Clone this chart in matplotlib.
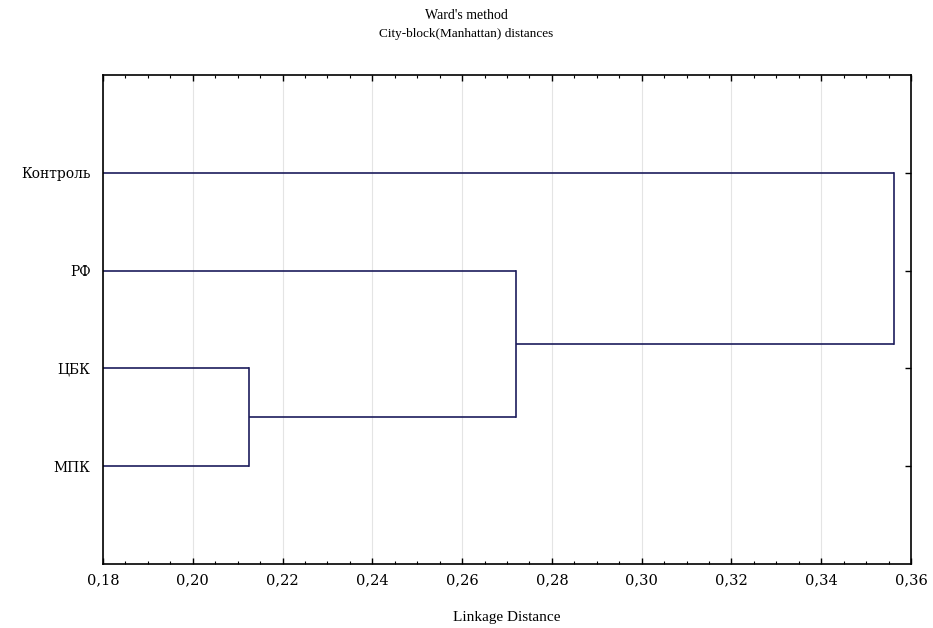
import matplotlib
matplotlib.use("Agg")
import matplotlib.pyplot as plt
from matplotlib.ticker import MultipleLocator, FuncFormatter

# Data
leaf_labels = ["Контроль", "РФ", "ЦБК", "МПК"]
# merges: (cluster a, cluster b, linkage distance); leaves are 0..3, new clusters 4..
merge_a = [2, 1, 0]
merge_b = [3, 4, 5]
merge_dist = [0.2125, 0.2721, 0.3562]
x_ticks = [0.18, 0.20, 0.22, 0.24, 0.26, 0.28, 0.30, 0.32, 0.34, 0.36]

plt.rcParams['font.family'] = ['Liberation Serif', 'DejaVu Serif']

fig = plt.figure(figsize=(9.33, 6.28), dpi=100)
ax = fig.add_axes([0.1104, 0.1019, 0.8660, 0.7787])

line_color = "#1c1c5c"
ypos = {i: i + 1 for i in range(len(leaf_labels))}
xpos = {i: 0.0 for i in range(len(leaf_labels))}
for k, (a, b, d) in enumerate(zip(merge_a, merge_b, merge_dist)):
    new = len(leaf_labels) + k
    for c in (a, b):
        ax.plot([xpos[c], d], [ypos[c], ypos[c]], color=line_color, lw=1.2, solid_capstyle='butt')
    ax.plot([d, d], [ypos[a], ypos[b]], color=line_color, lw=1.2)
    ypos[new] = (ypos[a] + ypos[b]) / 2
    xpos[new] = d

ax.set_xlim(x_ticks[0], x_ticks[-1])
ax.set_ylim(len(leaf_labels) + 1, 0)
ax.set_xticks(x_ticks)
ax.xaxis.set_minor_locator(MultipleLocator(0.005))
ax.xaxis.set_major_formatter(FuncFormatter(lambda v, p: f"{v:.2f}".replace('.', ',')))
ax.set_yticks([ypos[i] for i in range(len(leaf_labels))])
ax.set_yticklabels(leaf_labels)

ax.tick_params(axis='x', which='major', direction='in', length=4, width=1, top=True, bottom=True,
               labelsize=10.5, pad=7)
ax.tick_params(axis='x', which='minor', direction='in', length=2.5, width=0.8, top=True, bottom=True)
ax.tick_params(axis='y', which='major', direction='in', length=4, width=1, left=False, right=True,
               labelsize=10, pad=9)
for lbl in ax.get_yticklabels() + ax.get_xticklabels():
    lbl.set_family(['DejaVu Serif'])
ax.grid(axis='x', which='major', color='#e4e4e4', lw=0.8)
ax.set_axisbelow(True)
for s in ax.spines.values():
    s.set_linewidth(1.2)
    s.set_color('black')

ax.set_xlabel("Linkage Distance", fontsize=11, labelpad=17)
fig.text(0.5, 0.986, "Ward's method", ha='center', va='top', fontsize=10)
fig.text(0.5, 0.955, "City-block(Manhattan) distances", ha='center', va='top', fontsize=9.5)

fig.savefig("out.png", dpi=100)
